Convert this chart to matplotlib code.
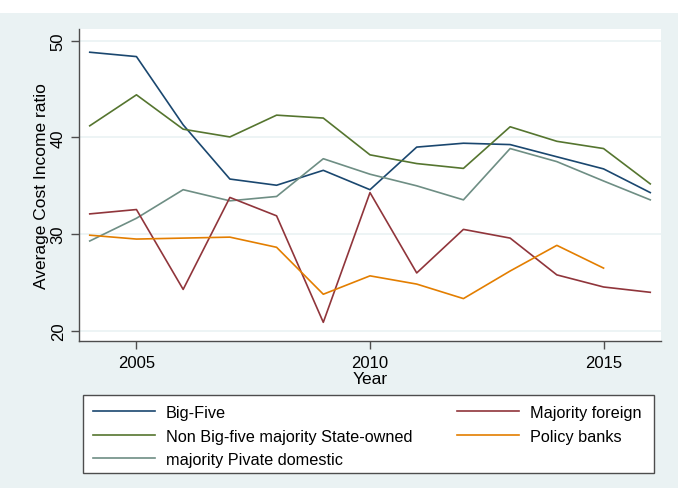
import matplotlib.pyplot as plt
from matplotlib.lines import Line2D
from matplotlib.patches import Rectangle

years = list(range(2004, 2017))

big_five = [48.8, 48.35, 41.3, 35.7, 35.06, 36.6, 34.6, 39.0, 39.4, 39.26, 38.0, 36.75, 34.3]
non_big_five_state = [41.2, 44.4, 40.85, 40.05, 42.3, 42.0, 38.2, 37.3, 36.8, 41.1, 39.6, 38.85, 35.2]
private_domestic = [29.3, 31.65, 34.6, 33.45, 33.9, 37.8, 36.2, 35.0, 33.55, 38.85, 37.5, 35.5, 33.55]
majority_foreign = [32.1, 32.55, 24.3, 33.8, 31.9, 20.9, 34.3, 26.0, 30.5, 29.6, 25.8, 24.55, 24.0]
policy_banks = [29.9, 29.5, 29.6, 29.7, 28.65, 23.8, 25.7, 24.85, 23.35, 26.2, 28.85, 26.5]

labels = ["Big-Five", "Non Big-five majority State-owned", "majority Pivate domestic",
          "Majority foreign", "Policy banks"]
colors = ["#1A476F", "#55752F", "#6E8E84", "#90353B", "#E37E00"]

bg = "#EAF2F3"
axis_col = "#4d4d4d"
W, H = 682, 489

plt.rcParams["font.family"] = ["Liberation Sans", "DejaVu Sans"]

fig = plt.figure(figsize=(W / 100, H / 100), dpi=100, facecolor="white")

# graph region (light blue-grey panel, white margin top and right)
fig.patches.append(Rectangle((0, 0), 678 / W, 1 - 14 / H, transform=fig.transFigure,
                             facecolor=bg, edgecolor="none", zorder=-5))

ax = fig.add_axes([79 / W, 1 - 342 / H, (661 - 79) / W, (342 - 30) / H])
ax.set_facecolor("white")

series = [big_five, non_big_five_state, private_domestic, majority_foreign, policy_banks]
handles = []
for vals, lab, c in zip(series, labels, colors):
    ax.plot(years[:len(vals)], vals, color=c, lw=1.2, label=lab)
    handles.append(Line2D([], [], color=c, lw=1.2))

ax.set_xlim(2003.77, 2016.23)
ax.set_ylim(18.97, 51.2)
ax.set_xticks([2005, 2010, 2015])
ax.set_yticks([20, 30, 40, 50])
ax.yaxis.grid(True, color=bg, lw=1.2)
ax.set_axisbelow(True)

for s in ["top", "right"]:
    ax.spines[s].set_visible(False)
for s in ["left", "bottom"]:
    ax.spines[s].set_color(axis_col)
    ax.spines[s].set_linewidth(1.0)

ax.tick_params(axis="both", direction="out", length=6, width=1.0, color=axis_col,
               labelsize=12)
ax.tick_params(axis="x", pad=4)
ax.tick_params(axis="y", pad=3.5)
for t in ax.get_yticklabels():
    t.set_rotation(90)
    t.set_va("center")

ax.set_xlabel("Year", fontsize=12.5, labelpad=0.5)
ax.set_ylabel("Average Cost Income ratio", fontsize=12.5, labelpad=1)

# legend box drawn separately so its size can be set exactly
fig.patches.append(Rectangle((82.7 / W, 1 - 474.3 / H), (654.3 - 82.7) / W, (474.3 - 396) / H,
                             transform=fig.transFigure, facecolor="white",
                             edgecolor=axis_col, lw=1.0, zorder=1))
fig.legend(handles, labels, ncol=2, loc="upper left",
           bbox_to_anchor=(82.7 / W, 1 - 396 / H),
           fontsize=11.7, frameon=False,
           handlelength=3.8, handletextpad=0.68, columnspacing=2.75,
           labelspacing=0.52, borderpad=0.62, borderaxespad=0)

fig.savefig("out.png", dpi=100, facecolor="white")
